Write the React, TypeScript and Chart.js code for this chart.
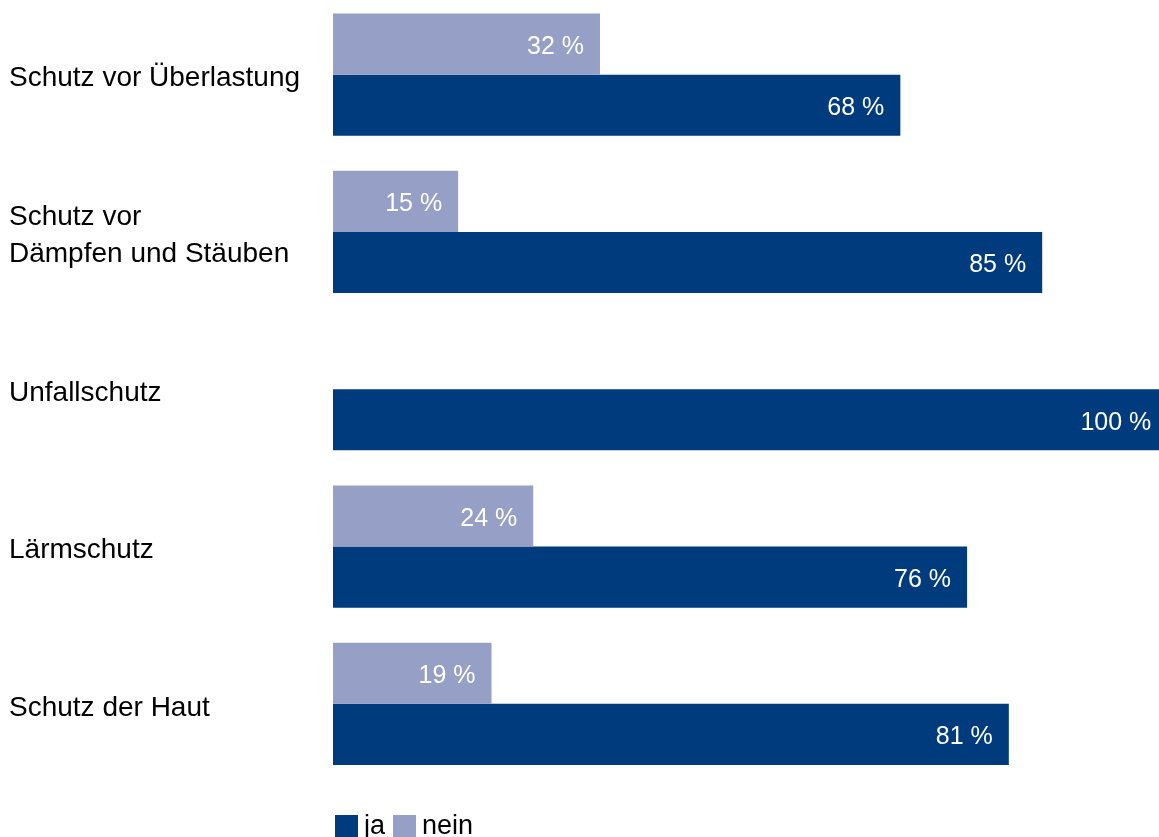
import React, { useEffect, useRef } from "react";
import { Chart, registerables } from "chart.js";

Chart.register(...registerables);

const categories: (string | string[])[] = [
  "Schutz vor Überlastung",
  ["Schutz vor", "Dämpfen und Stäuben"],
  "Unfallschutz",
  "Lärmschutz",
  "Schutz der Haut",
];
const neinValues = [32, 15, 0, 24, 19];
const jaValues = [68, 85, 100, 76, 81];
const legendLabels = ["ja", "nein"];

const DARK = "#003B7D";
const LIGHT = "#969FC6";
const FONT = "'Liberation Sans', Arial, sans-serif";

export default function App() {
  const ref = useRef<HTMLCanvasElement | null>(null);
  useEffect(() => {
    if (!ref.current) return;
    const valuePlugin = {
      id: "valueLabels",
      afterDatasetsDraw(chart: any) {
        const ctx = chart.ctx;
        ctx.save();
        ctx.font = `25px ${FONT}`;
        ctx.fillStyle = "#ffffff";
        ctx.textAlign = "right";
        ctx.textBaseline = "middle";
        chart.data.datasets.forEach((ds: any, di: number) => {
          const meta = chart.getDatasetMeta(di);
          meta.data.forEach((bar: any, i: number) => {
            const v = ds.data[i];
            if (!v) return;
            ctx.fillText(`${v} %`, bar.x - 16, bar.y + 3);
          });
        });
        ctx.restore();
      },
      afterDraw(chart: any) {
        const ctx = chart.ctx;
        ctx.save();
        ctx.font = `27px ${FONT}`;
        ctx.textBaseline = "middle";
        ctx.textAlign = "left";
        const y = 819;
        const h = 22;
        let x = 335;
        const items = [
          { label: legendLabels[0], color: DARK },
          { label: legendLabels[1], color: LIGHT },
        ];
        items.forEach((it) => {
          ctx.fillStyle = it.color;
          ctx.fillRect(x, y, 23, h);
          x += 23 + 6;
          ctx.fillStyle = "#000000";
          ctx.fillText(it.label, x, y + h / 2 + 1);
          x += ctx.measureText(it.label).width + 8;
        });
        ctx.restore();
      },
    };
    const chart = new Chart(ref.current, {
      type: "bar",
      data: {
        labels: categories,
        datasets: [
          { label: legendLabels[1], data: neinValues, backgroundColor: LIGHT },
          { label: legendLabels[0], data: jaValues, backgroundColor: DARK },
        ],
      },
      options: {
        indexAxis: "y",
        animation: false,
        responsive: false,
        maintainAspectRatio: false,
        datasets: { bar: { barPercentage: 1, categoryPercentage: 0.777 } },
        layout: { padding: { left: 9, right: 0, top: 0, bottom: 54.5 } },
        plugins: { legend: { display: false }, tooltip: { enabled: false } },
        scales: {
          x: { display: false, min: 0, max: 99 },
          y: {
            grid: { display: false },
            border: { display: false },
            ticks: {
              crossAlign: "far",
              labelOffset: 4,
              color: "#000000",
              font: { family: FONT, size: 28, lineHeight: 1.3 },
            },
            afterFit(scale: any) {
              scale.width = 324;
              scale.paddingTop = 0;
              scale.paddingBottom = 0;
            },
          },
        },
      },
      plugins: [valuePlugin],
    } as any);
    return () => chart.destroy();
  }, []);
  return (
    <div style={{ position: "fixed", left: 0, top: -4, width: 1159, height: 841, background: "#fff" }}>
      <canvas ref={ref} width={1159} height={841} style={{ display: "block" }} />
    </div>
  );
}
